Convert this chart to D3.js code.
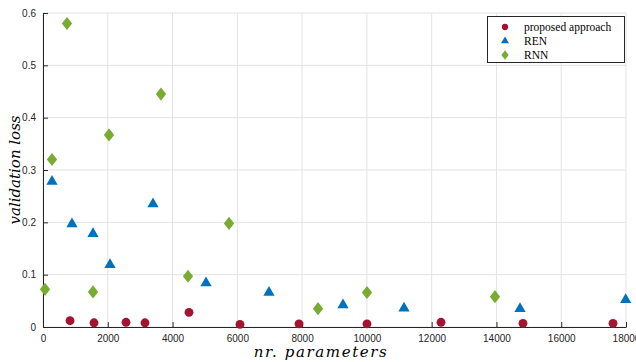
<!DOCTYPE html>
<html>
<head>
<meta charset="utf-8">
<script src="https://cdn.jsdelivr.net/npm/d3@7"></script>
<style>
  body { margin: 0; background: #fff; }
  .tick text { font-family: "Liberation Sans", Arial, sans-serif; font-size: 10px; fill: #262626; }
  .axis-label { font-family: "DejaVu Serif", "Liberation Serif", serif; font-style: italic; font-size: 15px; fill: #000; }
  .legend text { font-family: "Liberation Serif", "DejaVu Serif", serif; font-size: 11.5px; fill: #000; }
</style>
</head>
<body>
<svg id="chart" width="636" height="362"></svg>
<script>
// nr. parameters / validation loss
var proposedX = [834, 1575, 2563, 3149, 4508, 6082, 7904, 10003, 12288, 14820, 17599];
var proposedY = [0.012, 0.008, 0.009, 0.008, 0.028, 0.005, 0.006, 0.006, 0.009, 0.007, 0.007];
var renX = [278, 895, 1544, 2069, 3396, 5033, 6977, 9262, 11146, 14727, 17990];
var renY = [0.278, 0.197, 0.178, 0.119, 0.235, 0.084, 0.066, 0.042, 0.036, 0.035, 0.052];
var rnnX = [62, 278, 741, 1544, 2038, 3643, 4477, 5743, 8491, 10003, 13955];
var rnnY = [0.072, 0.32, 0.58, 0.067, 0.367, 0.445, 0.097, 0.198, 0.035, 0.066, 0.058];
var seriesNames = ['proposed approach', 'REN', 'RNN'];
var xTicks = [0, 2000, 4000, 6000, 8000, 10000, 12000, 14000, 16000, 18000];
var yTicks = [0, 0.1, 0.2, 0.3, 0.4, 0.5, 0.6];

var margin = {left: 43, right: 10, top: 13, bottom: 35};
var width = 636, height = 362;

var svg = d3.select('#chart');
var x = d3.scaleLinear().domain([0, 18000]).range([margin.left, width - margin.right]);
var y = d3.scaleLinear().domain([0, 0.6]).range([height - margin.bottom, margin.top]);

// grid
var grid = svg.append('g').attr('class', 'grid');
grid.selectAll('.gx').data(xTicks).enter().append('line')
    .attr('x1', function (d) { return x(d); })
    .attr('x2', function (d) { return x(d); })
    .attr('y1', y(0)).attr('y2', y(0.6))
    .style('stroke', '#e3e3e3').style('stroke-width', 1);
grid.selectAll('.gy').data(yTicks).enter().append('line')
    .attr('x1', x(0)).attr('x2', x(18000))
    .attr('y1', function (d) { return y(d); })
    .attr('y2', function (d) { return y(d); })
    .style('stroke', '#e3e3e3').style('stroke-width', 1);

// axes (ticks inside, like matlab)
var xAxis = svg.append('g')
    .attr('transform', 'translate(0,' + y(0) + ')')
    .call(d3.axisBottom(x).tickValues(xTicks).tickSizeInner(-5).tickSizeOuter(0).tickPadding(8)
        .tickFormat(d3.format('d')));
var yAxis = svg.append('g')
    .attr('transform', 'translate(' + x(0) + ',0)')
    .call(d3.axisLeft(y).tickValues(yTicks).tickSizeInner(-5).tickSizeOuter(0).tickPadding(7)
        .tickFormat(function (d) { return d === 0 ? '0' : d3.format('.1f')(d); }));
[xAxis, yAxis].forEach(function (a) {
    a.select('.domain').style('stroke', '#262626');
    a.selectAll('.tick line').style('stroke', '#262626');
});

// markers
var colors = ['#A2142F', '#0072BD', '#77AC30'];
var symbols = [d3.symbolCircle, d3.symbolTriangle, d3.symbolDiamond];
var sizes = [62, 55, 50];
var stretch = ['', '', ' scale(1.35,1)'];

function marker(i) {
    return d3.symbol().type(symbols[i]).size(sizes[i]);
}

var series = [
    d3.zip(proposedX, proposedY),
    d3.zip(renX, renY),
    d3.zip(rnnX, rnnY)
];

series.forEach(function (pts, i) {
    svg.append('g').selectAll('path').data(pts).enter().append('path')
        .attr('d', marker(i))
        .attr('transform', function (d) {
            return 'translate(' + x(d[0]) + ',' + y(d[1]) + ')' + stretch[i];
        })
        .style('fill', colors[i]);
});

// axis labels
svg.append('text').attr('class', 'axis-label')
    .attr('x', 321).attr('y', 357)
    .attr('text-anchor', 'middle')
    .style('letter-spacing', '1.6px')
    .text('nr. parameters');
svg.append('text').attr('class', 'axis-label')
    .attr('transform', 'translate(20,' + ((y(0) + y(0.6)) / 2) + ') rotate(-90)')
    .attr('text-anchor', 'middle')
    .text('validation loss');

// legend
var legend = svg.append('g').attr('class', 'legend');
legend.append('rect')
    .attr('x', 487.5).attr('y', 16.5).attr('width', 137).attr('height', 46)
    .style('fill', '#fff').style('stroke', '#262626').style('stroke-width', 1);
seriesNames.forEach(function (name, i) {
    var ly = 27 + i * 14;
    legend.append('path')
        .attr('d', d3.symbol().type(symbols[i]).size(sizes[i] * 0.5))
        .attr('transform', 'translate(505,' + ly + ')' + stretch[i])
        .style('fill', colors[i]);
    legend.append('text')
        .attr('x', 524).attr('y', ly + 4)
        .text(name);
});
</script>
</body>
</html>
